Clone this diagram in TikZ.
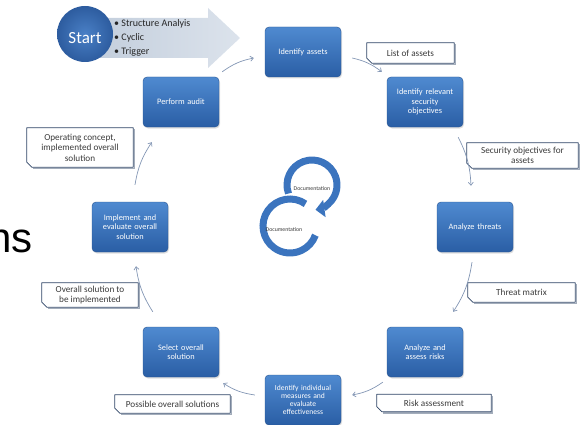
\documentclass[tikz,border=0pt]{standalone}
\usepackage{fontspec}
\setmainfont{Carlito}
\newfontfamily\arialfont{Liberation Sans}
\usetikzlibrary{arrows.meta,shadows}

\definecolor{boxtop}{HTML}{4F8AD0}
\definecolor{boxbot}{HTML}{2A5EA5}
\definecolor{boxedge}{HTML}{2A5590}
\definecolor{flowcol}{HTML}{8396B4}
\definecolor{calloutedge}{HTML}{2E4466}
\definecolor{calloutshadow}{HTML}{A3ADBB}
\definecolor{ringblue}{HTML}{3B74BE}
\definecolor{arrowleft}{HTML}{C4CFDD}
\definecolor{arrowright}{HTML}{DCE3EC}
\definecolor{startin}{HTML}{4A80C6}
\definecolor{startout}{HTML}{2D5C9F}
\definecolor{labelgray}{HTML}{3A3A3A}

\tikzset{
  box/.style={rounded corners=4pt, minimum width=76pt, minimum height=50pt,
    text width=72pt, align=center, inner sep=2pt,
    font=\fontsize{8.3}{9.5}\selectfont, text=white,
    top color=boxtop, bottom color=boxbot, draw=boxedge, line width=0.4pt,
    drop shadow={opacity=0.25, shadow xshift=1pt, shadow yshift=-1.5pt}},
  callout/.style={inner sep=0pt, align=center, text=labelgray,
    font=\fontsize{9.2}{10.5}\selectfont},
  calloutline/.style={draw=calloutedge, line width=0.8pt, line join=round},
  calloutshade/.style={draw=calloutshadow, line width=1.2pt},
  flow/.style={draw=flowcol, line width=0.7pt,
    -{Straight Barb[length=3pt,width=5pt]}},
  ring/.style={draw=ringblue, line width=7pt},
  doclabel/.style={font=\fontsize{5.8}{6}\selectfont, text=labelgray, inner sep=0pt},
}

\begin{document}
\begin{tikzpicture}[x=1pt,y=-1pt]
\useasboundingbox (0,0) rectangle (583,425);

% partial heading text at the left edge
\node[font=\arialfont\fontsize{42}{42}\selectfont, anchor=base east, inner sep=0pt]
  (heading) at (33,252) {ns};

% start banner: broad arrow behind the start circle
\shade[left color=arrowleft, right color=arrowright]
  (100,18) -- (208,18) -- (208,8) -- (240,38) -- (208,68) -- (208,58) -- (100,58) -- cycle;
\node[circle, minimum size=56pt, inner sep=0pt, inner color=startin, outer color=startout]
  (start) at (85,34) {};
\node[text=white, font=\fontsize{17}{17}\selectfont, inner sep=0pt] (starttext) at (85,38) {Start};
\node[anchor=west, align=left, inner sep=0pt, text=black!85,
  font=\fontsize{10}{14}\selectfont] (bullets) at (114,38)
  {• Structure Analyis\\• Cyclic\\• Trigger};

% process steps
\node[box] (audit) at (181,102) {Perform audit};
\node[box] (assets) at (303,52) {Identify assets};
\node[box] (secobj) at (425,102) {Identify relevant\\security\\objectives};
\node[box] (threats) at (475,227) {Analyze threats};
\node[box] (risks) at (425,352) {Analyze and\\assess risks};
\node[box, font=\fontsize{7.6}{8}\selectfont] (measures) at (303,400)
  {Identify individual\\measures and\\evaluate\\effectiveness};
\node[box] (select) at (181,352) {Select overall\\solution};
\node[box] (implement) at (130,227) {Implement and\\evaluate overall\\solution};

% work products
\node[callout, minimum width=87pt, minimum height=20pt] (c1) at (410.5,53) {List of assets};
\node[callout, minimum width=111pt, minimum height=25pt] (c2) at (522.5,155.5)
  {Security objectives for\\assets};
\node[callout, minimum width=107pt, minimum height=19pt] (c3) at (521.5,292.5) {Threat matrix};
\node[callout, minimum width=114pt, minimum height=17pt] (c4) at (434,403) {Risk assessment};
\node[callout, minimum width=115pt, minimum height=18pt] (c5) at (172.5,404)
  {Possible overall solutions};
\node[callout, minimum width=96pt, minimum height=24pt] (c6) at (90,295)
  {Overall solution to\\be implemented};
\node[callout, minimum width=106pt, minimum height=39pt] (c7) at (80,147.5)
  {Operating concept,\\implemented overall\\solution};

% outlines of the work products, with a clipped lower left corner
\foreach \c in {c1,c2,c3,c4,c5,c6,c7}{
  \draw[calloutshade] ([shift={(1.2,1.2)}]\c.north east) -- ([shift={(1.2,1.2)}]\c.south east)
    -- ([shift={(6,1.2)}]\c.south west);
  \draw[calloutline] (\c.north west) -- (\c.north east) -- (\c.south east)
    -- ([shift={(5,0)}]\c.south west) -- ([shift={(0,-5)}]\c.south west) -- cycle;
}

% cycle of steps
\draw[flow] ([shift={(3,-5)}]audit.north east) to[bend left=12] ([shift={(-11,6)}]assets.west);
\draw[flow] ([shift={(11,6)}]assets.east) to[bend left=12] ([shift={(-5,-5)}]secobj.north west);
\draw[flow] ([shift={(-5,10)}]secobj.south east) to[bend left=12] ([shift={(-4,-16)}]threats.north);
\draw[flow] ([shift={(-3,10)}]threats.south) to[bend left=12] ([shift={(-10,-15)}]risks.north east);
\draw[flow] ([shift={(-4,5)}]risks.south west) to[bend left=12] ([shift={(11,-5)}]measures.east);
\draw[flow] ([shift={(-10,-5)}]measures.west) to[bend left=12] ([shift={(4,6)}]select.south east);
\draw[flow] ([shift={(10,-15)}]select.north west) to[bend left=12] ([shift={(6,14)}]implement.south);
\draw[flow] ([shift={(5,-17)}]implement.north) to[bend left=12] ([shift={(9,15)}]audit.south west);

% documentation loop in the middle
\coordinate (upperc) at (312,185);
\coordinate (lowerc) at (290,226);
\draw[ring] (lowerc) ++(-55:27) arc[start angle=-55, end angle=-340, radius=27];
\draw[ring, -{Triangle[length=9pt,width=17pt]}] (upperc) ++(-200:25)
  arc[start angle=-200, end angle=82, radius=25];
\node[doclabel] (docup) at (312,189) {Documentation};
\node[doclabel] (doclow) at (284,230) {Documentation};
\end{tikzpicture}
\end{document}
